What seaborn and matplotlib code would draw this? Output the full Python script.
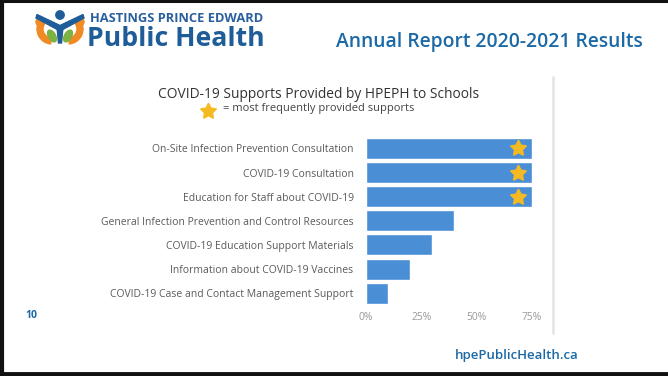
import matplotlib
matplotlib.use("Agg")
import matplotlib.pyplot as plt
from matplotlib.patches import Wedge, Circle, Ellipse, Polygon
import seaborn as sns
import pandas as pd

# ---- data ----
categories = [
    "On-Site Infection Prevention Consultation",
    "COVID-19 Consultation",
    "Education for Staff about COVID-19",
    "General Infection Prevention and Control Resources",
    "COVID-19 Education Support Materials",
    "Information about COVID-19 Vaccines",
    "COVID-19 Case and Contact Management Support",
]
values = [75, 75, 75, 40, 30, 20, 10]
starred = [True, True, True, False, False, False, False]
tick_values = [0, 25, 50, 75]
tick_labels = ["0%", "25%", "50%", "75%"]

title = "COVID-19 Supports Provided by HPEPH to Schools"
legend_text = "= most frequently provided supports"

sns.set_theme(style="white")
plt.rcParams["font.family"] = ["Open Sans", "DejaVu Sans"]

W, H = 668, 376
fig = plt.figure(figsize=(W / 100, H / 100), dpi=100)
fig.patch.set_facecolor("white")

# ---- decoration layer in pixel coords ----
deco = fig.add_axes([0, 0, 1, 1])
deco.set_xlim(0, W)
deco.set_ylim(H, 0)
deco.axis("off")

blue_dark = "#1f5d99"
blue_text = "#1b69a6"
orange = "#f08a24"
green = "#7cb342"

# frame (top, left, bottom)
deco.plot([0, W], [1, 1], color="#111111", lw=2.2, solid_capstyle="butt")
deco.plot([1.5, 1.5], [0, H], color="#111111", lw=3, solid_capstyle="butt")
deco.plot([0, W], [374, 374], color="#111111", lw=3.5, solid_capstyle="butt")

# chart panel right border
deco.plot([553, 553], [77, 333], color="#e6e6e6", lw=2)

# logo icon
deco.add_patch(Wedge((52, 29), 15, 95, 215, width=6, color=orange))
deco.add_patch(Wedge((68, 29), 15, -35, 85, width=6, color=orange))
deco.add_patch(Circle((40, 22), 4, color=orange))
deco.add_patch(Circle((80, 22), 4, color=orange))
deco.add_patch(Ellipse((52, 36), 7, 13, angle=-30, color=green))
deco.add_patch(Ellipse((68, 36), 7, 13, angle=30, color=green))
deco.add_patch(Circle((60, 15), 4.2, color=blue_dark))
deco.add_patch(Polygon([(36, 18), (60, 31), (84, 18), (83, 14.5), (60, 25.5), (37, 14.5)],
                       closed=True, color=blue_dark))
deco.add_patch(Polygon([(57, 27), (63, 27), (61.5, 43), (58.5, 43)], closed=True, color=blue_dark))

deco.text(90, 22.5, "HASTINGS PRINCE EDWARD", fontsize=9.3, fontweight="bold",
          color="#2a5f9e", ha="left", va="baseline")
deco.text(87, 46.5, "Public Health", fontsize=19.2, fontweight="bold",
          color=blue_dark, ha="left", va="baseline")

deco.text(643, 42, "Annual Report 2020-2021 Results", fontsize=13.9, fontweight="semibold",
          color=blue_text, ha="right", va="center")

deco.text(319, 94, title, fontsize=9.9, color="#333333", ha="center", va="center")
deco.plot([208], [111], marker=(5, 1, 0), markersize=12, color="#f5b921",
          markeredgecolor="#f5b921", linestyle="none")
deco.text(223, 109, legend_text, fontsize=8, color="#444444", ha="left", va="center")

deco.text(31, 315, "10", fontsize=7.5, fontweight="bold", color=blue_text,
          ha="center", va="center")
deco.text(517, 356, "hpePublicHealth.ca", fontsize=9.5, fontweight="semibold",
          color=blue_text, ha="center", va="center")

# ---- chart ----
left = 366 / W
right = 554 / W
top = 136.4
bottom = 305.2
ax = fig.add_axes([left, 1 - bottom / H, right - left, (bottom - top) / H])
ax.patch.set_alpha(0)

df = pd.DataFrame({"category": categories, "value": values})
sns.barplot(data=df, x="value", y="category", orient="h", color="#4a8fd6",
            saturation=1, width=0.87, ax=ax)

for i, (v, s) in enumerate(zip(values, starred)):
    if s:
        ax.plot(v - 6.3, i, marker=(5, 1, 0), markersize=12, color="#f5b921",
                markeredgecolor="#f5b921", linestyle="none")

ax.set_xlim(0, 85)
ax.set_ylim(6.5, -0.5)
ax.set_xticks(tick_values)
ax.set_xticklabels(tick_labels)
ax.set_xlabel("")
ax.set_ylabel("")
for sp in ax.spines.values():
    sp.set_visible(False)
ax.tick_params(axis="x", length=0, pad=5, labelsize=7.4, labelcolor="#999999")
ax.tick_params(axis="y", length=0, pad=9, labelsize=7.5, labelcolor="#5a5a5a")
ax.grid(False)

fig.savefig("out.png", dpi=100, facecolor="white")
